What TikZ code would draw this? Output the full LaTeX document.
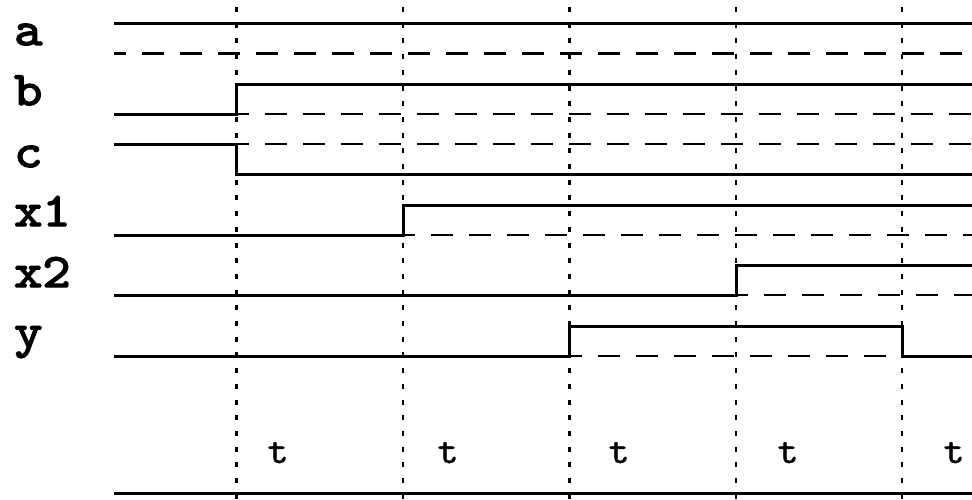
\documentclass[tikz,border=0pt]{standalone}
\usepackage{fontspec}
\usepackage{tikz}
\usetikzlibrary{positioning}
\newfontfamily\lblfont[FakeBold=3,FakeStretch=1.12]{lmmono10-regular.otf}
\newfontfamily\tickfont[FakeBold=0.8,FakeStretch=1.05]{lmmono10-regular.otf}
\tikzset{
  sigline/.style  = {line width=3pt},
  lowdash/.style  = {line width=2.3pt, dash pattern=on 22pt off 16pt, dash phase=10pt},
  clkline/.style  = {line width=2.2pt, dash pattern=on 5pt off 10.7pt},
  siglabel/.style = {font=\fontsize{48}{48}\selectfont\lblfont, anchor=base west, inner sep=0pt},
  tlabel/.style   = {font=\fontsize{38}{38}\selectfont\tickfont, anchor=base, inner sep=0pt},
}

\begin{document}
\begin{tikzpicture}[x=1pt,y=-1pt]
  \useasboundingbox (0,0) rectangle (972,499);
  % clock period boundaries
  \foreach \tx in {236.5,403,569.5,736,902}
    \draw[clkline] (\tx,7) -- (\tx,499);
  % signal a
  \node[siglabel] (la) at (14,45) {a};
  \draw[sigline] (114,23.5) -- (972,23.5);
  \draw[lowdash] (114,53.5) -- (972,53.5);
  % signal b
  \node[siglabel] (lb) at (14,105) {b};
  \draw[sigline] (114,114) -- (236.5,114) -- (236.5,84) -- (972,84);
  \draw[lowdash] (236.5,114) -- (972,114);
  % signal c
  \node[siglabel] (lc) at (14,167) {c};
  \draw[sigline] (114,144) -- (236.5,144) -- (236.5,174) -- (972,174);
  \draw[lowdash] (236.5,144) -- (972,144);
  % signal x1
  \node[siglabel] (lx1) at (14,226) {x1};
  \draw[sigline] (114,235) -- (403,235) -- (403,205) -- (972,205);
  \draw[lowdash] (403,235) -- (972,235);
  % signal x2
  \node[siglabel] (lx2) at (14,287) {x2};
  \draw[sigline] (114,295) -- (736,295) -- (736,265) -- (972,265);
  \draw[lowdash] (736,295) -- (972,295);
  % output y
  \node[siglabel] (ly) at (14,347) {y};
  \draw[sigline] (114,356) -- (569.5,356) -- (569.5,326) -- (902,326) -- (902,356) -- (972,356);
  \draw[lowdash] (569.5,356) -- (902,356);
  % time axis
  \foreach \tx [count=\i] in {278,448,619,788,954}
    \node[tlabel] (t\i) at (\tx,463) {t};
  \draw[sigline] (114,493) -- (972,493);
\end{tikzpicture}
\end{document}
